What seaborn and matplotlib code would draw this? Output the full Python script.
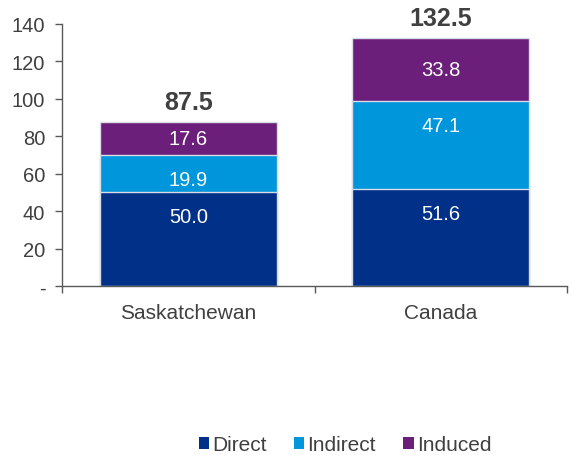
import matplotlib
matplotlib.use("Agg")
import matplotlib.pyplot as plt
import seaborn as sns
import numpy as np
import pandas as pd
from matplotlib.patches import Patch

regions = ["Saskatchewan", "Canada"]
direct = [50.0, 51.6]
indirect = [19.9, 47.1]
induced = [17.6, 33.8]
totals = [87.5, 132.5]
series_names = ["Direct", "Indirect", "Induced"]
colors = ["#003087", "#0096DB", "#6C1F7A"]
y_ticks = [0, 20, 40, 60, 80, 100, 120, 140]
y_tick_labels = ["-", "20", "40", "60", "80", "100", "120", "140"]

sns.set_theme(style="white")
plt.rcParams["font.family"] = ["Liberation Sans", "DejaVu Sans"]
text_color = "#404040"

fig = plt.figure(figsize=(5.75, 4.56), dpi=100)
ax = fig.add_axes([62 / 575, 1 - 287 / 456, 505 / 575, 262 / 456])

layers = [direct, indirect, induced]
cum = np.cumsum(np.array(layers), axis=0)
# Draw the stack from the top down so each layer covers the one above it
for i in range(len(layers) - 1, -1, -1):
    df = pd.DataFrame({"region": regions, "value": cum[i]})
    sns.barplot(data=df, x="region", y="value", color=colors[i], width=0.7,
                saturation=1, edgecolor="#D8DDE8", linewidth=1.0, ax=ax)

# Segment labels: the top layer is centred, the lower ones sit near the segment top
bottoms = np.vstack([np.zeros(len(regions)), cum[:-1]])
for i, vals in enumerate(layers):
    for j, v in enumerate(vals):
        if i == len(layers) - 1:
            ax.annotate(f"{v:.1f}", (j, bottoms[i][j] + v / 2), ha="center", va="center",
                        color="white", fontsize=14.5)
        else:
            ax.annotate(f"{v:.1f}", (j, cum[i][j]), xytext=(0, -17.5),
                        textcoords="offset points", ha="center", va="center",
                        color="white", fontsize=14.5)

# Totals above stacks
for j, t in enumerate(totals):
    ax.annotate(f"{t:.1f}", (j, t), xytext=(0, 14.5), textcoords="offset points",
                ha="center", va="center", color=text_color,
                fontsize=18, fontweight="bold", annotation_clip=False)

ax.set_ylim(0, 140)
ax.set_xlim(-0.5, 1.5)
ax.set_yticks(y_ticks)
ax.set_yticklabels(y_tick_labels)
ax.set_xticks([0, 1])
ax.set_xticklabels(regions)
ax.set_xlabel("")
ax.set_ylabel("")

for s in ["top", "right"]:
    ax.spines[s].set_visible(False)
for s in ["left", "bottom"]:
    ax.spines[s].set_color("#595959")
    ax.spines[s].set_linewidth(1.0)

ax.tick_params(axis="y", length=5, width=1, color="#595959", labelcolor=text_color,
               labelsize=14.5, left=True, pad=7)
ax.tick_params(axis="x", length=0, labelcolor=text_color, labelsize=15, pad=12)
# Category boundary ticks on the bottom axis
ax.set_xticks([-0.5, 0.5, 1.5], minor=True)
ax.tick_params(axis="x", which="minor", length=5, width=1, color="#595959", bottom=True)

handles = [Patch(facecolor=c, edgecolor="none") for c in colors]
fig.legend(handles, series_names, loc="center", bbox_to_anchor=(345 / 575, 1 - 446 / 456),
           ncol=3, frameon=False, fontsize=15, labelcolor=text_color,
           handlelength=0.5, handleheight=0.5, handletextpad=0.15, columnspacing=1.3)

fig.savefig("out.png", dpi=100)
